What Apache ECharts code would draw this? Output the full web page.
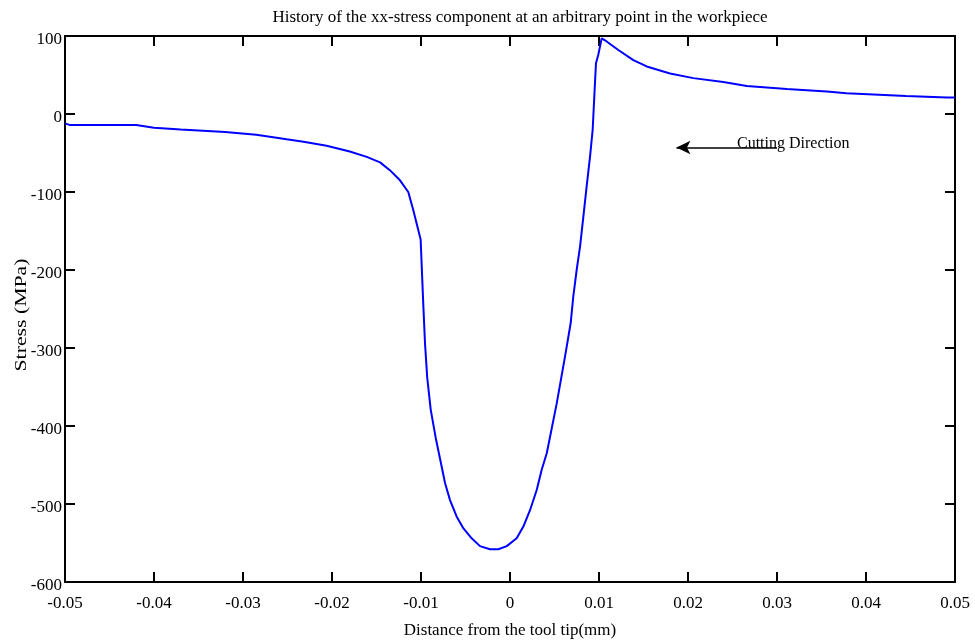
<!DOCTYPE html>
<html>
<head>
<meta charset="utf-8">
<script src="https://cdn.jsdelivr.net/npm/echarts@6/dist/echarts.min.js"></script>
<style>html,body{margin:0;padding:0;background:#fff}#c{width:975px;height:643px}</style>
</head>
<body>
<div id="c"></div>
<script>
const distance = [-0.05,-0.0495,-0.042,-0.04,-0.037,-0.032,-0.0285,-0.0251,-0.0232,-0.0206,-0.018,-0.0161,-0.0146,-0.0135,-0.01236,-0.01143,-0.01087,-0.01004,-0.00974,-0.00955,-0.0093,-0.00891,-0.00835,-0.00768,-0.0073,-0.00674,-0.006,-0.00525,-0.00431,-0.00337,-0.00225,-0.00131,-0.00037,0.00075,0.0015,0.00225,0.003,0.00356,0.00413,0.00525,0.00618,0.00682,0.00711,0.00749,0.00787,0.00824,0.00861,0.00899,0.00929,0.00947,0.00966,0.00992,0.0103,0.01086,0.01217,0.01386,0.01536,0.01798,0.0206,0.02397,0.0266,0.0311,0.0356,0.0378,0.0445,0.0491,0.05];
const stress = [-12,-14,-14,-17.5,-20,-23,-26.5,-32.5,-35.5,-40.6,-48,-55,-62,-72,-85,-100,-123,-161,-245,-294,-338,-379,-415,-452,-473,-495,-516,-531,-544,-554,-558,-558,-554,-544,-529,-508,-482,-456,-435,-371,-311,-268,-234,-200,-170,-132,-93,-55,-20,22,65,76,97,93,82,69,61,52,46,41,36,32,29,26.5,23,21,21];
const arrowFrom = [0.03,-43];
const arrowTo = [0.0187,-43];
const titleText = 'History of the xx-stress component at an arbitrary point in the workpiece';
const xAxisTitle = 'Distance from the tool tip(mm)';
const yAxisTitle = 'Stress (MPa)';
const annotationText = 'Cutting Direction';

const FONT = '"Liberation Serif", "Times New Roman", serif';
const chart = echarts.init(document.getElementById('c'), null, {renderer:'canvas'});
const fmtX = v => Math.abs(v) < 1e-9 ? '0' : String(+v.toFixed(2));
const baseAxis = {
  axisLine:{show:true, onZero:false, lineStyle:{color:'#000', width:2}},
  axisTick:{show:true, inside:true, length:10, lineStyle:{color:'#000', width:2}},
  splitLine:{show:false}
};
chart.setOption({
  animation:false,
  title:{text:titleText, left:515, top:4, textAlign:'center',
    textStyle:{fontFamily:FONT, fontWeight:'normal', fontSize:17, color:'#000'}},
  grid:{left:65, right:20, top:36, bottom:61, containLabel:false, outerBoundsMode:'none'},
  xAxis:[
    Object.assign({}, baseAxis, {type:'value', position:'bottom', min:-0.05, max:0.05, interval:0.01,
      axisLabel:{formatter:fmtX, fontFamily:FONT, fontSize:17, color:'#000', margin:13},
      name:xAxisTitle, nameLocation:'middle', nameGap:40,
      nameTextStyle:{fontFamily:FONT, fontSize:17, color:'#000'}}),
    Object.assign({}, baseAxis, {type:'value', position:'top', min:-0.05, max:0.05, interval:0.01,
      axisLabel:{show:false}})
  ],
  yAxis:[
    Object.assign({}, baseAxis, {type:'value', position:'left', min:-600, max:100, interval:100,
      axisLabel:{fontFamily:FONT, fontSize:17, color:'#000', margin:3, verticalAlign:'top', lineHeight:8}}),
    Object.assign({}, baseAxis, {type:'value', position:'right', min:-600, max:100, interval:100,
      axisLabel:{show:false}})
  ],
  series:[{
    type:'line', xAxisIndex:0, yAxisIndex:0, showSymbol:false, smooth:false,
    data: distance.map((d,i)=>[d, stress[i]]),
    lineStyle:{color:'#0000ff', width:2},
    itemStyle:{color:'#0000ff'},
    markLine:{
      silent:true, symbol:['none','arrow'], symbolSize:[10,14],
      lineStyle:{color:'#000', width:1.5, type:'solid'},
      label:{show:false},
      data:[[{coord:arrowFrom},{coord:arrowTo}]]
    }
  }],
  graphic:[
    {type:'text', left:737, top:136,
      style:{text:annotationText, font:'16px ' + FONT, fill:'#000'}},
    {type:'text', x:22, y:315, rotation:Math.PI/2, scaleX:1.28,
      style:{text:yAxisTitle, font:'17px ' + FONT, fill:'#000', textAlign:'center', textVerticalAlign:'middle'}}
  ]
});
</script>
</body>
</html>
